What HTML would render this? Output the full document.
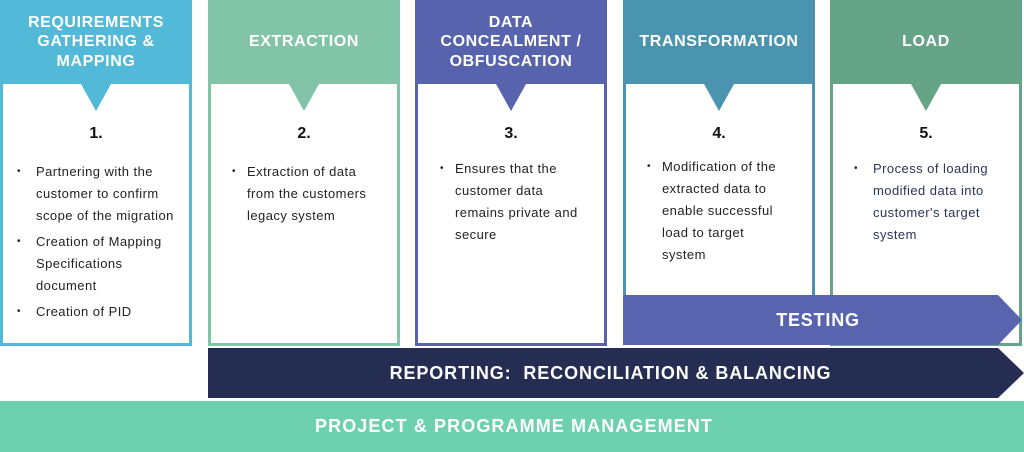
<!DOCTYPE html>
<html><head><style>
body{margin:0;width:1024px;height:452px;background:#fff;position:relative;overflow:hidden;font-family:"Liberation Sans",sans-serif}
.col{position:absolute;top:0;width:192px;box-sizing:border-box;border:3px solid;background:#fff}
.hd{position:absolute;left:-3px;top:-3px;width:192px;height:84px;color:#fff;font-weight:bold;font-size:16px;line-height:19.5px;text-align:center;display:flex;align-items:center;justify-content:center;letter-spacing:0.6px}
.tri{position:absolute;top:81px;left:78px;width:0;height:0;border-left:15px solid transparent;border-right:15px solid transparent;border-top:27px solid}
.num{position:absolute;top:122px;left:0;width:186px;text-align:center;font-weight:bold;font-size:16px;color:#111}
.t{position:absolute;font-size:13px;letter-spacing:0.45px;color:#222;line-height:22px;white-space:nowrap}
.b{position:absolute;font-size:10px;color:#222}
.bar{position:absolute;color:#fff;font-weight:bold;display:flex;align-items:center;justify-content:center}
</style></head><body>

<div class="col" style="left:0;height:346px;border-color:#52b9d8">
<div class="hd" style="background:#52b9d8">REQUIREMENTS<br>GATHERING &amp;<br>MAPPING</div>
<div class="tri" style="border-top-color:#52b9d8"></div>
<div class="num">1.</div>
</div>
<div class="col" style="left:208px;height:346px;border-color:#82c4a8">
<div class="hd" style="background:#82c4a8">EXTRACTION</div>
<div class="tri" style="border-top-color:#82c4a8"></div>
<div class="num">2.</div>
</div>
<div class="col" style="left:415px;height:346px;border-color:#5763ac">
<div class="hd" style="background:#5763ac">DATA<br>CONCEALMENT /<br>OBFUSCATION</div>
<div class="tri" style="border-top-color:#5763ac"></div>
<div class="num">3.</div>
</div>
<div class="col" style="left:623px;height:300px;border-color:#4b94b0">
<div class="hd" style="background:#4b94b0">TRANSFORMATION</div>
<div class="tri" style="border-top-color:#4b94b0"></div>
<div class="num">4.</div>
</div>
<div class="col" style="left:830px;height:346px;border-color:#65a487">
<div class="hd" style="background:#65a487">LOAD</div>
<div class="tri" style="border-top-color:#65a487"></div>
<div class="num">5.</div>
</div>

<div class="b" style="left:17px;top:166px">•</div>
<div class="t" style="left:36px;top:161px">Partnering with the<br>customer to confirm<br>scope of the migration</div>
<div class="b" style="left:17px;top:236px">•</div>
<div class="t" style="left:36px;top:231px">Creation of Mapping<br>Specifications<br>document</div>
<div class="b" style="left:17px;top:306px">•</div>
<div class="t" style="left:36px;top:301px">Creation of PID</div>
<div class="b" style="left:232px;top:166px">•</div>
<div class="t" style="left:247px;top:161px">Extraction of data<br>from the customers<br>legacy system</div>
<div class="b" style="left:440px;top:163px">•</div>
<div class="t" style="left:455px;top:158px">Ensures that the<br>customer data<br>remains private and<br>secure</div>
<div class="b" style="left:647px;top:161px">•</div>
<div class="t" style="left:662px;top:156px">Modification of the<br>extracted data to<br>enable successful<br>load to target<br>system</div>
<div class="b" style="left:854px;top:163px">•</div>
<div class="t" style="left:873px;top:158px;color:#2a3558">Process of loading<br>modified data into<br>customer's target<br>system</div>

<svg style="position:absolute;left:0;top:0" width="1024" height="452">
<polygon points="623,295 998,295 1022,320 998,345 623,345" fill="#5865ae"/>
<polygon points="208,348 998,348 1024,373 998,398 208,398" fill="#252e52"/>
<rect x="0" y="401" width="1024" height="51" fill="#6dd0ae"/>
</svg>
<div class="bar" style="left:623px;top:295px;width:390px;height:50px;font-size:18px;letter-spacing:0.8px">TESTING</div>
<div class="bar" style="left:208px;top:348px;width:805px;height:50px;font-size:18px;letter-spacing:0.9px">REPORTING:&nbsp; RECONCILIATION &amp; BALANCING</div>
<div class="bar" style="left:0;top:401px;width:1024px;height:51px;font-size:18px;letter-spacing:1.1px;justify-content:flex-start;padding-left:315px;box-sizing:border-box">PROJECT &amp; PROGRAMME MANAGEMENT</div>
</body></html>
